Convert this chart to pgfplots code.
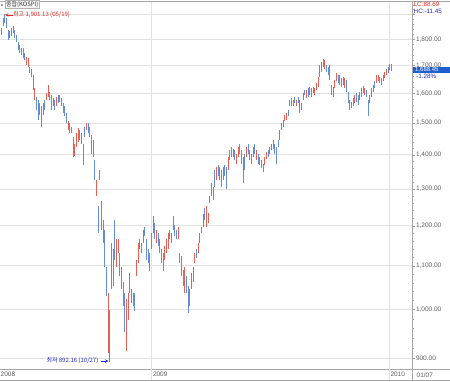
\documentclass[border=0pt]{standalone}
\usepackage{pgfplots}
\pgfplotsset{compat=1.18}
\usepackage{pgfplotstable}
\usepackage{fontspec}
\setmainfont{Liberation Sans}
\newfontfamily\kr{Noto Sans CJK KR}
\definecolor{upred}{RGB}{226,96,86}
\definecolor{dnblue}{RGB}{100,140,215}
\definecolor{gridc}{RGB}{226,226,226}
\definecolor{axc}{RGB}{165,165,165}
\definecolor{txt}{RGB}{95,95,95}
\definecolor{pricebox}{RGB}{30,95,205}
\definecolor{annblue}{RGB}{40,40,200}
\definecolor{annred}{RGB}{225,40,40}
\pgfplotstableread{
x lo hi c
5 1817 1844 1
10 1851 1884 1
15 1864 1901.13 0
20 1844 1884 0
25 1797 1837 0
30 1804 1831 1
35 1811 1844 1
40 1824 1853 1
45 1804 1837 0
50 1791 1817 0
55 1759 1791 0
60 1746 1778 0
65 1740 1765 1
70 1727 1765 0
75 1721 1746 0
80 1701 1733 1
85 1695 1727 1
90 1671 1695 0
95 1660 1689 1
100 1612 1665 0
105 1578 1618 1
110 1544 1589 0
115 1511 1578 0
120 1528 1567 1
125 1489 1556 0
130 1528 1567 1
135 1544 1578 0
140 1578 1600 1
145 1589 1630 1
150 1578 1606 0
155 1544 1594 0
160 1556 1583 1
165 1544 1578 0
170 1556 1589 1
175 1567 1594 0
180 1572 1594 0
185 1556 1583 0
190 1533 1567 0
195 1522 1556 0
200 1500 1533 0
205 1478 1506 1
210 1468 1500 0
215 1468 1489 0
220 1393 1457 0
225 1398 1435 1
230 1425 1468 1
235 1441 1484 1
240 1446 1478 0
245 1435 1468 1
250 1369 1435 1
255 1457 1489 0
260 1478 1500 1
265 1468 1500 0
270 1457 1489 0
275 1403 1462 0
280 1393 1446 1
285 1326 1384 0
290 1279 1326 1
295 1182 1252 0
300 1326 1355 1
305 1190 1266 0
310 1157 1216 1
315 1098 1190 0
320 1030 1098 0
325 910 1038 1
328 892.16 1000 1
335 1045 1157 1
340 1053 1140 1
345 1115 1215 0
350 1098 1165 1
355 1132 1165 1
360 1076 1132 0
365 1045 1098 1
370 1008 1061 0
375 952 1038 0
380 914 1023 1
385 979 1038 1
390 1038 1083 1
395 1015 1045 1
400 1008 1038 0
405 997 1038 0
410 1076 1115 1
415 1107 1157 1
420 1140 1165 1
425 1132 1157 0
430 1157 1190 1
435 1173 1198 0
440 1115 1165 0
445 1107 1140 0
450 1087 1132 1
455 1140 1182 1
460 1182 1225 1
465 1165 1207 0
470 1157 1190 1
475 1148 1182 0
480 1132 1165 0
485 1107 1140 0
490 1087 1132 0
495 1115 1148 1
500 1132 1165 1
505 1140 1182 1
510 1165 1190 1
515 1157 1182 0
520 1190 1225 0
525 1173 1203 0
530 1165 1190 0
535 1165 1198 1
540 1107 1132 0
545 1076 1123 0
550 1053 1091 0
555 1038 1098 1
560 1038 1076 0
565 993 1053 0
570 1008 1045 1
575 1045 1083 1
580 1061 1098 1
585 1107 1132 1
590 1119 1140 0
595 1132 1157 1
600 1157 1182 1
605 1182 1198 1
610 1198 1230 1
615 1216 1248 0
620 1198 1252 1
625 1207 1234 1
630 1261 1279 1
635 1279 1316 1
640 1270 1307 0
645 1307 1355 0
650 1326 1365 1
655 1336 1369 0
660 1326 1365 1
665 1307 1355 0
670 1326 1365 1
675 1336 1369 0
680 1300 1365 0
685 1355 1393 1
690 1384 1414 1
695 1393 1425 0
700 1393 1419 1
705 1384 1414 0
710 1374 1403 1
715 1393 1425 1
720 1403 1435 0
725 1374 1414 0
730 1316 1393 1
735 1355 1403 0
740 1393 1425 1
745 1403 1435 0
750 1384 1414 0
755 1374 1403 1
760 1393 1425 1
765 1403 1435 0
770 1384 1414 1
775 1374 1403 0
780 1369 1393 0
785 1360 1384 0
790 1350 1374 0
795 1369 1393 1
800 1388 1408 1
805 1393 1414 0
810 1403 1425 1
815 1414 1435 1
820 1419 1446 0
825 1403 1435 0
830 1374 1425 0
835 1425 1446 0
840 1446 1478 1
845 1478 1500 1
850 1489 1511 1
855 1506 1528 1
860 1511 1533 1
865 1522 1544 0
870 1556 1578 1
875 1556 1583 0
880 1556 1578 1
885 1567 1589 0
890 1556 1578 1
895 1567 1589 0
900 1533 1578 1
905 1544 1567 1
910 1578 1600 0
915 1594 1612 0
920 1583 1612 1
925 1589 1618 0
930 1594 1624 1
935 1589 1618 0
940 1600 1624 1
945 1594 1618 1
950 1612 1636 1
955 1624 1660 1
960 1660 1701 1
965 1677 1714 0
970 1695 1723 0
975 1689 1721 1
980 1677 1701 0
985 1665 1695 0
990 1648 1701 0
995 1594 1630 0
1000 1589 1624 0
1005 1618 1648 1
1010 1642 1671 1
1015 1636 1665 0
1020 1630 1665 0
1025 1624 1654 0
1030 1630 1660 1
1035 1618 1654 1
1040 1606 1648 0
1045 1567 1606 0
1050 1544 1578 1
1055 1550 1572 1
1060 1556 1583 0
1065 1567 1594 1
1070 1572 1600 0
1075 1561 1594 0
1080 1578 1606 1
1085 1589 1618 1
1090 1600 1626 0
1095 1594 1618 1
1100 1589 1612 0
1105 1522 1578 0
1110 1567 1594 1
1115 1589 1618 1
1120 1606 1630 1
1125 1618 1642 0
1130 1636 1665 1
1135 1642 1665 1
1140 1636 1660 0
1145 1630 1654 0
1150 1642 1665 1
1155 1654 1677 1
1160 1665 1689 1
1165 1671 1695 0
1170 1683 1707 1
1175 1681 1704 0
}\kospi

\begin{document}
\begin{tikzpicture}
\useasboundingbox (0pt,0pt) rectangle (450pt,381pt);
\fill[white] (0pt,0pt) rectangle (450pt,381pt);
\begin{axis}[
  at={(0pt,12pt)}, anchor=south west,
  scale only axis, width=412.3pt, height=367pt,
  xmin=0, xmax=1237,
  ymode=log, ymin=879.3, ymax=1952,
  axis x line*=bottom, axis y line*=right,
  axis line style={draw=none},
  xtick={455,1168}, xticklabels={}, xtick style={draw=none},
  ytick={900,1000,1100,1200,1300,1400,1500,1600,1700,1800,1900},
  yticklabels={900.00,{1,000.00},{1,100.00},{1,200.00},{1,300.00},{1,400.00},{1,500.00},{1,600.00},{1,700.00},{1,800.00},{}},
  minor ytick={920,940,960,980,1020,1040,1060,1080,1120,1140,1160,1180,1220,1240,1260,1280,1320,1340,1360,1380,1420,1440,1460,1480,1520,1540,1560,1580,1620,1640,1660,1680,1720,1740,1760,1780,1820,1840,1860,1880,1920,1940},
  tick align=outside,
  major tick length=3pt, minor tick length=2pt,
  ytick style={axc, line width=0.5pt},
  minor tick style={axc, line width=0.5pt},
  yticklabel style={font=\fontsize{6.5}{7}\selectfont, text=txt, inner sep=0pt, anchor=west, xshift=0.5pt},
  /pgf/number format/assume math mode=true,
  xmajorgrids, ymajorgrids,
  major grid style={gridc, line width=0.8pt},
  clip=true,
]
\addplot[draw=none, mark=none, restrict expr to domain={\thisrow{c}}{0.5:1.5},
  error bars/.cd, y dir=plus, y explicit, error mark=none,
  error bar style={draw=upred, line width=1pt}]
  table[x=x, y=lo, y error expr=\thisrow{hi}-\thisrow{lo}] {\kospi};
\addplot[draw=none, mark=none, restrict expr to domain={\thisrow{c}}{-0.5:0.5},
  error bars/.cd, y dir=plus, y explicit, error mark=none,
  error bar style={draw=dnblue, line width=1pt}]
  table[x=x, y=lo, y error expr=\thisrow{hi}-\thisrow{lo}] {\kospi};
\end{axis}
% frame lines
\draw[axc, line width=0.7pt] (0pt,379.8pt) -- (450pt,379.8pt);
\draw[axc, line width=0.7pt] (0pt,12pt) -- (450pt,12pt);
\draw[axc, line width=0.7pt] (0pt,0.8pt) -- (450pt,0.8pt);
\draw[axc, line width=0.7pt] (412.3pt,0pt) -- (412.3pt,380pt);
\draw[gridc, line width=0.8pt] (151.7pt,1pt) -- (151.7pt,12pt);
\draw[gridc, line width=0.8pt] (389.3pt,1pt) -- (389.3pt,12pt);
% date labels
\begin{scope}[every node/.style={font=\fontsize{6.5}{7}\selectfont, text=txt, inner sep=0pt, anchor=west}]
\node at (0.5pt,6.3pt) {2008};
\node at (152.8pt,6.3pt) {2009};
\node at (390.3pt,6.3pt) {2010};
\node at (416.5pt,6.3pt) {01/07};
\end{scope}
% top-left legend box
\fill[gray!70] (1pt,374.5pt) rectangle (3pt,376.5pt);
\node[draw=gray!60, fill=gray!10, inner sep=0.8pt, anchor=north west, font=\kr\fontsize{6}{6.5}\selectfont, text=black!75] at (5pt,380.5pt) {종합(KOSPI)};
% annotations
\draw[annred, line width=0.6pt, -stealth] (12.5pt,366pt) -- (5pt,366pt);
\node[anchor=west, inner sep=0pt, text=annred, font=\kr\fontsize{6}{6.5}\selectfont] at (13pt,366pt) {최고 1,901.13 (05/19)};
\node[anchor=east, inner sep=0pt, text=annblue, font=\kr\fontsize{6}{6.5}\selectfont] at (98.5pt,20pt) {최저 892.16 (10/27)};
\draw[annblue, line width=0.6pt, -stealth] (101pt,20pt) -- (108.5pt,20pt);
% right-top info
\node[anchor=west, inner sep=0pt, text=annred, font=\fontsize{6.3}{6.5}\selectfont] at (413.5pt,376.5pt) {LC:88.69};
\node[anchor=west, inner sep=0pt, text=annblue, font=\fontsize{6.3}{6.5}\selectfont] at (413.5pt,369.5pt) {HC:-11.45};
\fill[pricebox] (413pt,308.3pt) rectangle (450pt,313.8pt);
\node[anchor=west, inner sep=0pt, text=white, font=\fontsize{6}{6.2}\selectfont] at (415pt,311pt) {1,688.45};
\node[anchor=west, inner sep=0pt, text=annblue, font=\fontsize{6.3}{6.5}\selectfont] at (416pt,304.3pt) {-1.28\%};
\end{tikzpicture}
\end{document}
